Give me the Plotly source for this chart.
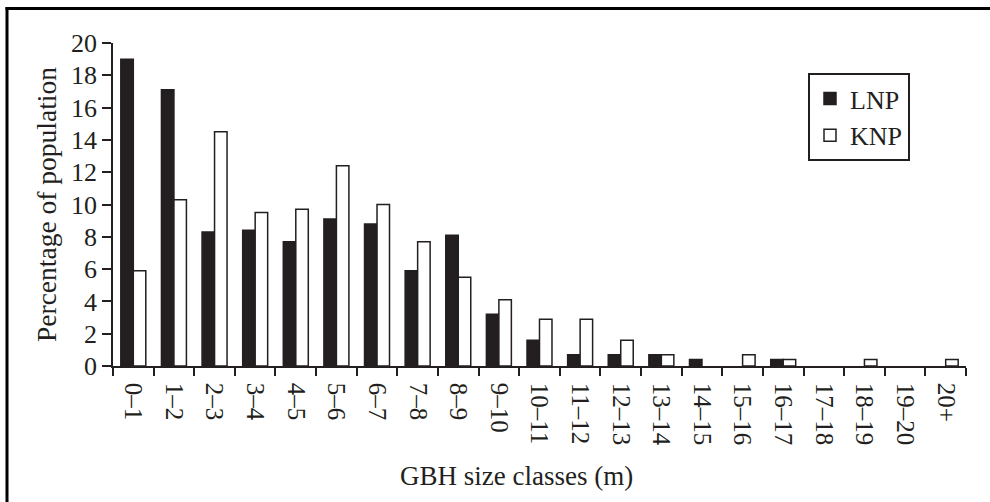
import plotly.graph_objects as go

categories = ["0–1", "1–2", "2–3", "3–4", "4–5", "5–6", "6–7", "7–8", "8–9", "9–10",
              "10–11", "11–12", "12–13", "13–14", "14–15", "15–16", "16–17", "17–18",
              "18–19", "19–20", "20+"]
lnp = [19.0, 17.1, 8.3, 8.4, 7.7, 9.1, 8.8, 5.9, 8.1, 3.2, 1.6, 0.7, 0.7, 0.7, 0.4, 0, 0.4, 0, 0, 0, 0]
knp = [5.9, 10.3, 14.5, 9.5, 9.7, 12.4, 10.0, 7.7, 5.5, 4.1, 2.9, 2.9, 1.6, 0.7, 0, 0.7, 0.4, 0, 0.4, 0, 0.4]
y_ticks = [0, 2, 4, 6, 8, 10, 12, 14, 16, 18, 20]

INK = "#231f20"
FONT = "Liberation Serif, Times New Roman, serif"

W, H = 990, 502
L, R, T, B = 113, 24, 43, 136
pw, ph = W - L - R, H - T - B


def px(x):
    return (x - L) / pw


def py(y):
    return (H - B - y) / ph


def outline(vals):
    return [0 if v == 0 else 1.5 for v in vals]


fig = go.Figure()
fig.add_trace(go.Bar(x=categories, y=lnp, name="LNP",
                     marker=dict(color=INK, line=dict(color=INK, width=outline(lnp)))))
fig.add_trace(go.Bar(x=categories, y=knp, name="KNP",
                     marker=dict(color="white", line=dict(color=INK, width=outline(knp)))))

fig.update_layout(
    width=W, height=H,
    margin=dict(l=L, r=R, t=T, b=B, autoexpand=False),
    paper_bgcolor="white", plot_bgcolor="white",
    barmode="group", bargap=0.385, bargroupgap=0,
    font=dict(family=FONT, color=INK, size=25),
    showlegend=True,
    legend=dict(x=px(808), y=py(73), xanchor="left", yanchor="top",
                bgcolor="white", bordercolor=INK, borderwidth=2,
                font=dict(family=FONT, size=26, color=INK),
                tracegroupgap=4, itemwidth=30),
    xaxis=dict(type="category", showline=True, linecolor=INK, linewidth=1.5,
               ticks="outside", ticklen=8, tickwidth=1.5, tickcolor=INK,
               tickson="boundaries", tickangle=90, ticklabelstandoff=10,
               tickfont=dict(family=FONT, size=25, color=INK),
               showgrid=False, zeroline=False),
    yaxis=dict(range=[0, 20], tickvals=y_ticks, showline=True, linecolor=INK,
               linewidth=1.5, ticks="outside", ticklen=9, tickwidth=1.5,
               tickcolor=INK, tickfont=dict(family=FONT, size=26, color=INK),
               showgrid=False, zeroline=False),
    shapes=[
        dict(type="line", xref="paper", yref="paper", x0=px(7), x1=px(7),
             y0=py(7), y1=py(510), line=dict(color="black", width=3)),
        dict(type="line", xref="paper", yref="paper", x0=px(5.5), x1=px(1000),
             y0=py(8.5), y1=py(8.5), line=dict(color="black", width=3)),
    ],
    annotations=[
        dict(text="Percentage of population", xref="paper", yref="paper",
             x=px(46), y=py(205), xanchor="center", yanchor="middle",
             textangle=-90, showarrow=False,
             font=dict(family=FONT, size=27.5, color=INK)),
        dict(text="GBH size classes (m)", xref="paper", yref="paper",
             x=px(516), y=py(476), xanchor="center", yanchor="middle",
             showarrow=False, font=dict(family=FONT, size=27, color=INK)),
    ],
)

fig.write_html("out.html", config={"displayModeBar": False},
               post_script="document.body.style.margin='0';")
